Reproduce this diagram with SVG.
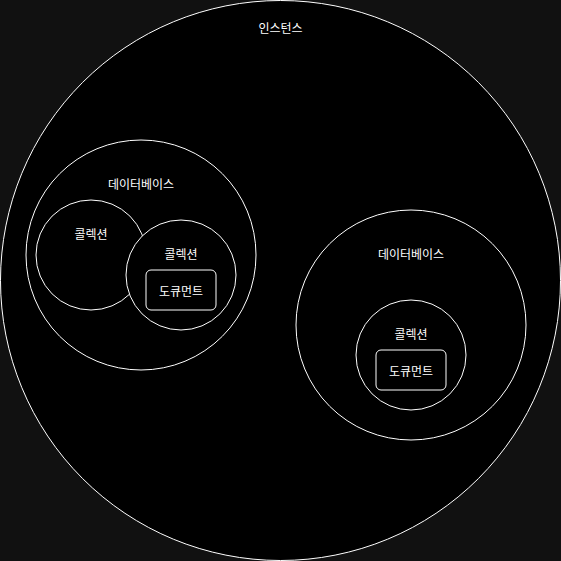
<svg xmlns="http://www.w3.org/2000/svg" width="561" height="561" viewBox="0 0 561 561">
<style>
.s{fill:#000;stroke:#fff;stroke-width:1}
.t{fill:#fff;font-family:"Noto Sans CJK KR","Noto Sans",sans-serif;font-size:12px;text-anchor:middle;dominant-baseline:central}
</style>
<rect width="561" height="561" fill="#111"/>
<g id="instance"><circle class="s" cx="280.5" cy="280.5" r="280"/><text class="t" x="280.5" y="27">인스턴스</text></g>
<g id="db1"><circle class="s" cx="141" cy="255" r="115"/><text class="t" x="141" y="183">데이터베이스</text></g>
<g id="col1"><circle class="s" cx="91" cy="255" r="55"/><text class="t" x="91" y="233">콜렉션</text></g>
<g id="col2"><circle class="s" cx="181" cy="275" r="55"/><text class="t" x="181" y="253">콜렉션</text></g>
<g id="doc1"><rect class="s" x="146" y="270" width="70" height="40" rx="5"/><text class="t" x="181" y="290">도큐먼트</text></g>
<g id="db2"><circle class="s" cx="411" cy="325" r="115"/><text class="t" x="411" y="253">데이터베이스</text></g>
<g id="col3"><circle class="s" cx="411" cy="355" r="55"/><text class="t" x="411" y="333">콜렉션</text></g>
<g id="doc2"><rect class="s" x="376" y="350" width="70" height="40" rx="5"/><text class="t" x="411" y="370">도큐먼트</text></g>
<g id="connectors"/>
</svg>
